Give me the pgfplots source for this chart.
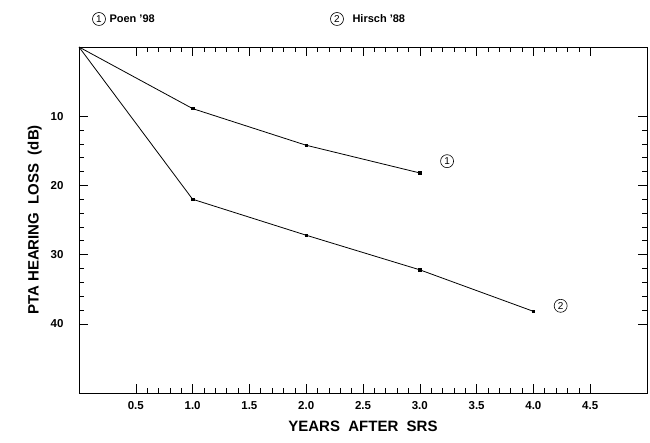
\documentclass[border=0pt]{standalone}
\usepackage{pgfplots}
\pgfplotsset{compat=1.18}
\usepackage{fontspec}
\setmainfont{Liberation Sans}
\begin{document}
\begin{tikzpicture}[x=1pt,y=1pt,
  cnum/.style={draw, circle, line width=0.6pt, inner sep=0pt, minimum size=13pt, font=\fontsize{10}{10}\selectfont}]
\begin{axis}[
  at={(0pt,0pt)}, anchor=south west,
  scale only axis, width=568pt, height=346pt,
  xmin=0, xmax=5, ymin=0, ymax=50, y dir=reverse,
  xtick={0.5,1,1.5,2,2.5,3,3.5,4,4.5},
  minor x tick num=4,
  ytick={10,20,30,40},
  minor y tick num=4,
  tick align=inside,
  major tick length=9pt, minor tick length=5pt,
  every tick/.style={black, line width=0.6pt},
  axis line style={line width=0.9pt},
  /pgf/number format/assume math mode=true,
  xticklabel style={/pgf/number format/fixed, /pgf/number format/fixed zerofill, /pgf/number format/precision=1, yshift=-5pt},
  ticklabel style={font=\fontsize{11.5}{13}\selectfont\bfseries},
  yticklabel style={xshift=-12pt},
  xlabel={YEARS\ \ AFTER\ \ SRS},
  ylabel={PTA HEARING\ \ LOSS\ \ (dB)},
  label style={font=\fontsize{15}{17}\selectfont\bfseries},
  xlabel style={yshift=-4pt},
  ylabel style={yshift=2pt},
  clip=false,
]
\addplot[black, line width=0.8pt, mark=square*, mark size=1.3pt, mark indices={2,3,4}] coordinates {(0,0) (1,8.9) (2,14.2) (3,18.2)};
\addplot[black, line width=0.8pt, mark=square*, mark size=1.3pt, mark indices={2,3,4,5}] coordinates {(0,0) (1,22.0) (2,27.2) (3,32.2) (4,38.2)};
\node[cnum] at (axis cs:3.24,16.5) {1};
\node[cnum] at (axis cs:4.24,37.4) {2};
\end{axis}
\node[cnum] at (20pt,374pt) {1};
\node[anchor=west, font=\fontsize{11}{13}\selectfont\bfseries] at (27pt,374pt) {Poen '98};
\node[cnum] at (258pt,374pt) {2};
\node[anchor=west, font=\fontsize{11}{13}\selectfont\bfseries] at (270pt,374pt) {Hirsch '88};
\path[use as bounding box] (-79pt,-50pt) rectangle (571pt,393pt);
\end{tikzpicture}
\end{document}
